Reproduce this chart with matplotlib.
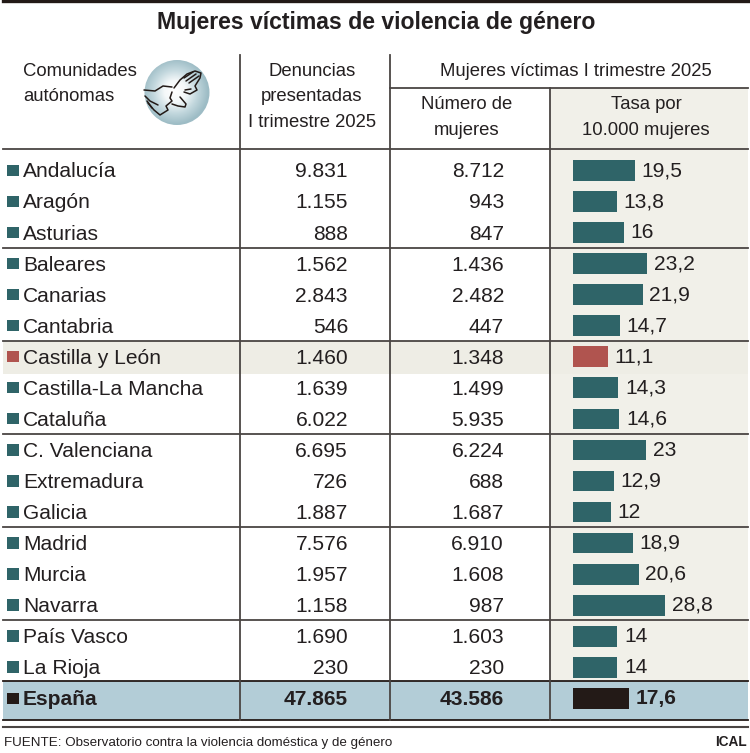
import numpy as np
import matplotlib
matplotlib.use("Agg")
import matplotlib.pyplot as plt
from matplotlib.colors import LinearSegmentedColormap
from matplotlib.patches import Circle, Rectangle

plt.rcParams["font.family"] = ["Liberation Sans", "DejaVu Sans"]

regions = ["Andalucía", "Aragón", "Asturias", "Baleares", "Canarias", "Cantabria",
           "Castilla y León", "Castilla-La Mancha", "Cataluña", "C. Valenciana",
           "Extremadura", "Galicia", "Madrid", "Murcia", "Navarra", "País Vasco",
           "La Rioja", "España"]
denuncias = ["9.831", "1.155", "888", "1.562", "2.843", "546", "1.460", "1.639", "6.022",
             "6.695", "726", "1.887", "7.576", "1.957", "1.158", "1.690", "230", "47.865"]
mujeres = ["8.712", "943", "847", "1.436", "2.482", "447", "1.348", "1.499", "5.935",
           "6.224", "688", "1.687", "6.910", "1.608", "987", "1.603", "230", "43.586"]
tasa = [19.5, 13.8, 16, 23.2, 21.9, 14.7, 11.1, 14.3, 14.6,
        23, 12.9, 12, 18.9, 20.6, 28.8, 14, 14, 17.6]
# filas tras las que va una raya horizontal
group_ends = [2, 5, 8, 11, 14]

TEAL = "#2f6468"
RED = "#b0544f"
BLACK = "#231a17"
LINE = "#4a4543"
CREAM = "#f1f0e9"
CYL_BG = "#eeede5"
BLUE_BG = "#b3cdd7"
TEXT = "#231f20"

W, H = 750, 753
FS = 15.1
HEAD = 13.3
BASE = 7.4  # de centro de fila a linea base


def fmt(v):
    return f"{v:g}".replace(".", ",")


fig = plt.figure(figsize=(W / 100, H / 100), dpi=100, facecolor="white")
ax = fig.add_axes([0, 0, 1, 1])
ax.set_xlim(0, W)
ax.set_ylim(H, 0)
ax.axis("off")

row_h = 31.06
y0 = 170.0
ys = [y0 + i * row_h for i in range(len(regions))]
x_c1, x_c2, x_c3 = 239.5, 390, 549.5
right = 748

# fondos
ax.add_patch(Rectangle((x_c3, 88), right - x_c3, 592, fc=CREAM, ec="none"))
ax.add_patch(Rectangle((3, 341), right - 3, 33, fc=CYL_BG, ec="none"))
ax.add_patch(Rectangle((3, 681), right - 3, 39, fc=BLUE_BG, ec="none"))

# rayas
ax.plot([3, right], [1, 1], color=BLACK, lw=2.4)
ax.plot([3, right], [149, 149], color=LINE, lw=1.3)
ax.plot([x_c2, right], [88, 88], color=LINE, lw=1.3)
for i in group_ends:
    yy = (ys[i] + ys[i + 1]) / 2
    ax.plot([3, right], [yy, yy], color=LINE, lw=1.3)
ax.plot([3, right], [680.5, 680.5], color=BLACK, lw=1.3)
ax.plot([3, right], [720, 720], color=BLACK, lw=1.3)
ax.plot([3, right], [727, 727], color=LINE, lw=1.5)
ax.plot([x_c1, x_c1], [55, 720], color=LINE, lw=1.3)
ax.plot([x_c2, x_c2], [55, 720], color=LINE, lw=1.3)
ax.plot([x_c3, x_c3], [88, 720], color=LINE, lw=1.3)

# titulo y cabeceras
ax.text(376, 29, "Mujeres víctimas de violencia de género", ha="center", va="baseline",
        fontsize=16.6, fontweight="bold", color=TEXT)
hkw = dict(ha="center", va="baseline", fontsize=HEAD, color=TEXT)
ax.text(23, 76, "Comunidades", ha="left", va="baseline", fontsize=HEAD, color=TEXT)
ax.text(23, 101, "autónomas", ha="left", va="baseline", fontsize=HEAD, color=TEXT)
ax.text(312, 76, "Denuncias", **hkw)
ax.text(312, 101, "presentadas", **hkw)
ax.text(312, 127, "I trimestre 2025", **hkw)
ax.text(576, 76, "Mujeres víctimas I trimestre 2025", **hkw)
ax.text(467, 109, "Número de", **hkw)
ax.text(467, 135, "mujeres", **hkw)
ax.text(646, 109, "Tasa por", **hkw)
ax.text(646, 135, "10.000 mujeres", **hkw)

# icono
grid = np.linspace(-1, 1, 120)
xx, yy = np.meshgrid(grid, grid)
rr = np.sqrt((xx + 0.05) ** 2 + (yy + 0.05) ** 2)
ico_cmap = LinearSegmentedColormap.from_list("ico", ["#ffffff", "#f4f8f9", "#c3d8de", "#9dbcc5"])
im = ax.imshow(rr, extent=(144, 210, 126, 60), cmap=ico_cmap, vmin=0, vmax=1.0, aspect="auto", zorder=2)
im.set_clip_path(Circle((177, 92.5), 32.5, transform=ax.transData))
ax.set_xlim(0, W)
ax.set_ylim(H, 0)
hand = [[(144, 90), (155, 91), (163, 86), (172, 87)],
        [(174, 88), (180, 80), (187, 74), (195, 71), (201, 73), (200, 78), (195, 86), (197, 90), (190, 94), (184, 92)],
        [(180, 97), (186, 104), (185, 107), (178, 106), (172, 104)],
        [(172, 92), (170, 98), (172, 101), (166, 106), (168, 110), (160, 115), (154, 110), (148, 103)],
        [(145, 96), (150, 101), (158, 105)],
        [(147, 101), (152, 108)],
        [(186, 81), (196, 74)], [(189, 83), (199, 76)], [(184, 78), (193, 72)],
        [(185, 90), (191, 89)]]
for seg in hand:
    sx, sy = zip(*seg)
    ax.plot(sx, sy, color=BLACK, lw=1.1, zorder=4, solid_capstyle="round")

# filas
for i, name in enumerate(regions):
    total = i == len(regions) - 1
    col = BLACK if total else (RED if name == "Castilla y León" else TEAL)
    weight = "bold" if total else "normal"
    ax.add_patch(Rectangle((7, ys[i] - 5.5), 11.5, 11.5, fc=col, ec="none"))
    ax.text(23, ys[i] + BASE, name, ha="left", va="baseline", fontsize=FS, color=TEXT, fontweight=weight)
    ax.text(348, ys[i] + BASE, denuncias[i], ha="right", va="baseline", fontsize=FS, color=TEXT, fontweight=weight)
    ax.text(504, ys[i] + BASE, mujeres[i], ha="right", va="baseline", fontsize=FS, color=TEXT, fontweight=weight)

# barras en sus propios ejes: 3,21 px por unidad
bar_left = 572.5
bax = fig.add_axes([bar_left / W, 0, (right - bar_left) / W, 1])
bax.set_xlim(0, (right - bar_left) / 3.21)
bax.set_ylim(H, 0)
bax.axis("off")
bar_cols = [BLACK if r == "España" else RED if r == "Castilla y León" else TEAL for r in regions]
bax.barh([y + 0.4 for y in ys], tasa, height=20.7, color=bar_cols)
for y, v, r in zip(ys, tasa, regions):
    bax.annotate(fmt(v), (v, y + BASE), xytext=(4.8, 1), textcoords="offset points", ha="left", va="baseline",
                 fontsize=FS, color=TEXT, fontweight="bold" if r == "España" else "normal")

# pie
ax.text(4, 746, "FUENTE: Observatorio contra la violencia doméstica y de género", ha="left", va="baseline",
        fontsize=9.6, color=TEXT)
ax.text(747, 746, "ICAL", ha="right", va="baseline", fontsize=9.8, fontweight="bold", color=TEXT)

fig.savefig("out.png", dpi=100)
